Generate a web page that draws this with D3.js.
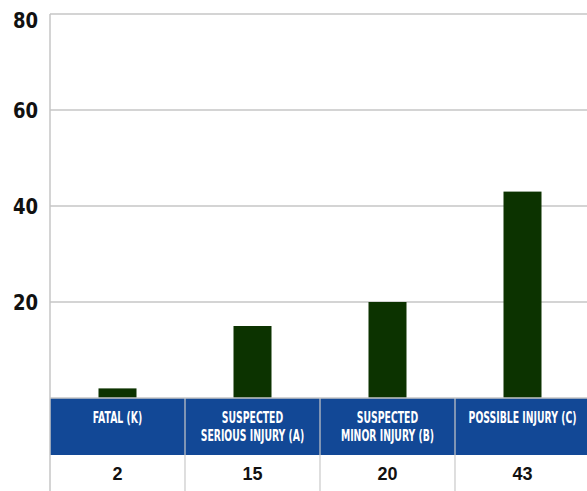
<!DOCTYPE html>
<html>
<head>
<meta charset="utf-8">
<script src="https://cdn.jsdelivr.net/npm/d3@7"></script>
<style>
  body { margin: 0; background: #fff; }
</style>
</head>
<body>
<svg id="chart" width="587" height="491"></svg>
<script>
"use strict";

// data
const categories = ["FATAL (K)", "SUSPECTED SERIOUS INJURY (A)", "SUSPECTED MINOR INJURY (B)", "POSSIBLE INJURY (C)"];
const labelLines = [["FATAL (K)"], ["SUSPECTED", "SERIOUS INJURY (A)"], ["SUSPECTED", "MINOR INJURY (B)"], ["POSSIBLE INJURY (C)"]];
const values = [2, 15, 20, 43];
const yTicks = [20, 40, 60, 80];

const svg = d3.select("#chart");
const W = 587, H = 491;
const marginLeft = 50, marginTop = 14, plotBottom = 398;
const bandBottom = 455;
const rightEdge = W + 5;

const x = d3.scaleBand().domain(categories).range([marginLeft, marginLeft + 135 * 4]);
const y = d3.scaleLinear().domain([0, 80]).range([plotBottom, marginTop]);

const condensed = "'DejaVu Sans', sans-serif";

// gridlines
svg.append("g")
  .selectAll("line")
  .data(yTicks)
  .enter().append("line")
  .attr("x1", marginLeft).attr("x2", rightEdge)
  .attr("y1", d => y(d)).attr("y2", d => y(d))
  .attr("stroke", "#c6c6c6").attr("stroke-width", 1.5);

// y tick labels (squeezed horizontally to look like a condensed face)
svg.append("g")
  .selectAll("text")
  .data(yTicks)
  .enter().append("text")
  .attr("transform", d => `translate(38,${Math.max(y(d), 20)}) scale(0.82,1)`)
  .attr("dy", "0.36em")
  .attr("text-anchor", "end")
  .style("font-family", condensed)
  .style("font-weight", "bold")
  .style("font-size", "22px")
  .attr("fill", "#111")
  .text(d => d);

// bars
const barW = 38;
svg.append("g")
  .selectAll("rect")
  .data(values)
  .enter().append("rect")
  .attr("x", (d, i) => x(categories[i]) + x.bandwidth() / 2 - barW / 2)
  .attr("y", d => y(d))
  .attr("width", barW)
  .attr("height", d => y(0) - y(d))
  .attr("fill", "#0c3300");

// blue header band
svg.append("rect")
  .attr("x", marginLeft).attr("y", plotBottom)
  .attr("width", rightEdge - marginLeft).attr("height", bandBottom - plotBottom)
  .attr("fill", "#124896");

svg.append("line")
  .attr("x1", marginLeft).attr("x2", rightEdge)
  .attr("y1", plotBottom).attr("y2", plotBottom)
  .attr("stroke", "#c6c6c6").attr("stroke-width", 1.5);

// column separators
svg.append("g")
  .selectAll("line")
  .data(categories.slice(1))
  .enter().append("line")
  .attr("x1", d => x(d)).attr("x2", d => x(d))
  .attr("y1", plotBottom).attr("y2", H)
  .attr("stroke", "#c9c9c9").attr("stroke-width", 1.2);

// left axis line
svg.append("line")
  .attr("x1", marginLeft).attr("x2", marginLeft)
  .attr("y1", marginTop).attr("y2", H)
  .attr("stroke", "#c6c6c6").attr("stroke-width", 1.5);

// header labels
const head = svg.append("g")
  .selectAll("text")
  .data(categories)
  .enter().append("text")
  .attr("transform", d => `translate(${x(d) + x.bandwidth() / 2},423) scale(0.62,1)`)
  .attr("text-anchor", "middle")
  .style("font-family", condensed)
  .style("font-weight", "bold")
  .style("font-size", "15px")
  .attr("fill", "#fff");

head.each(function(d, i) {
  const t = d3.select(this);
  labelLines[i].forEach((ln, j) => {
    t.append("tspan")
      .attr("x", 0)
      .attr("dy", j === 0 ? 0 : 18)
      .text(ln);
  });
});

// value row
svg.append("g")
  .selectAll("text")
  .data(values)
  .enter().append("text")
  .attr("x", (d, i) => x(categories[i]) + x.bandwidth() / 2)
  .attr("y", 474)
  .attr("dy", "0.35em")
  .attr("text-anchor", "middle")
  .style("font-family", "'Liberation Sans', Arial, sans-serif")
  .style("font-weight", "bold")
  .style("font-size", "18px")
  .attr("fill", "#111")
  .text(d => d);
</script>
</body>
</html>
